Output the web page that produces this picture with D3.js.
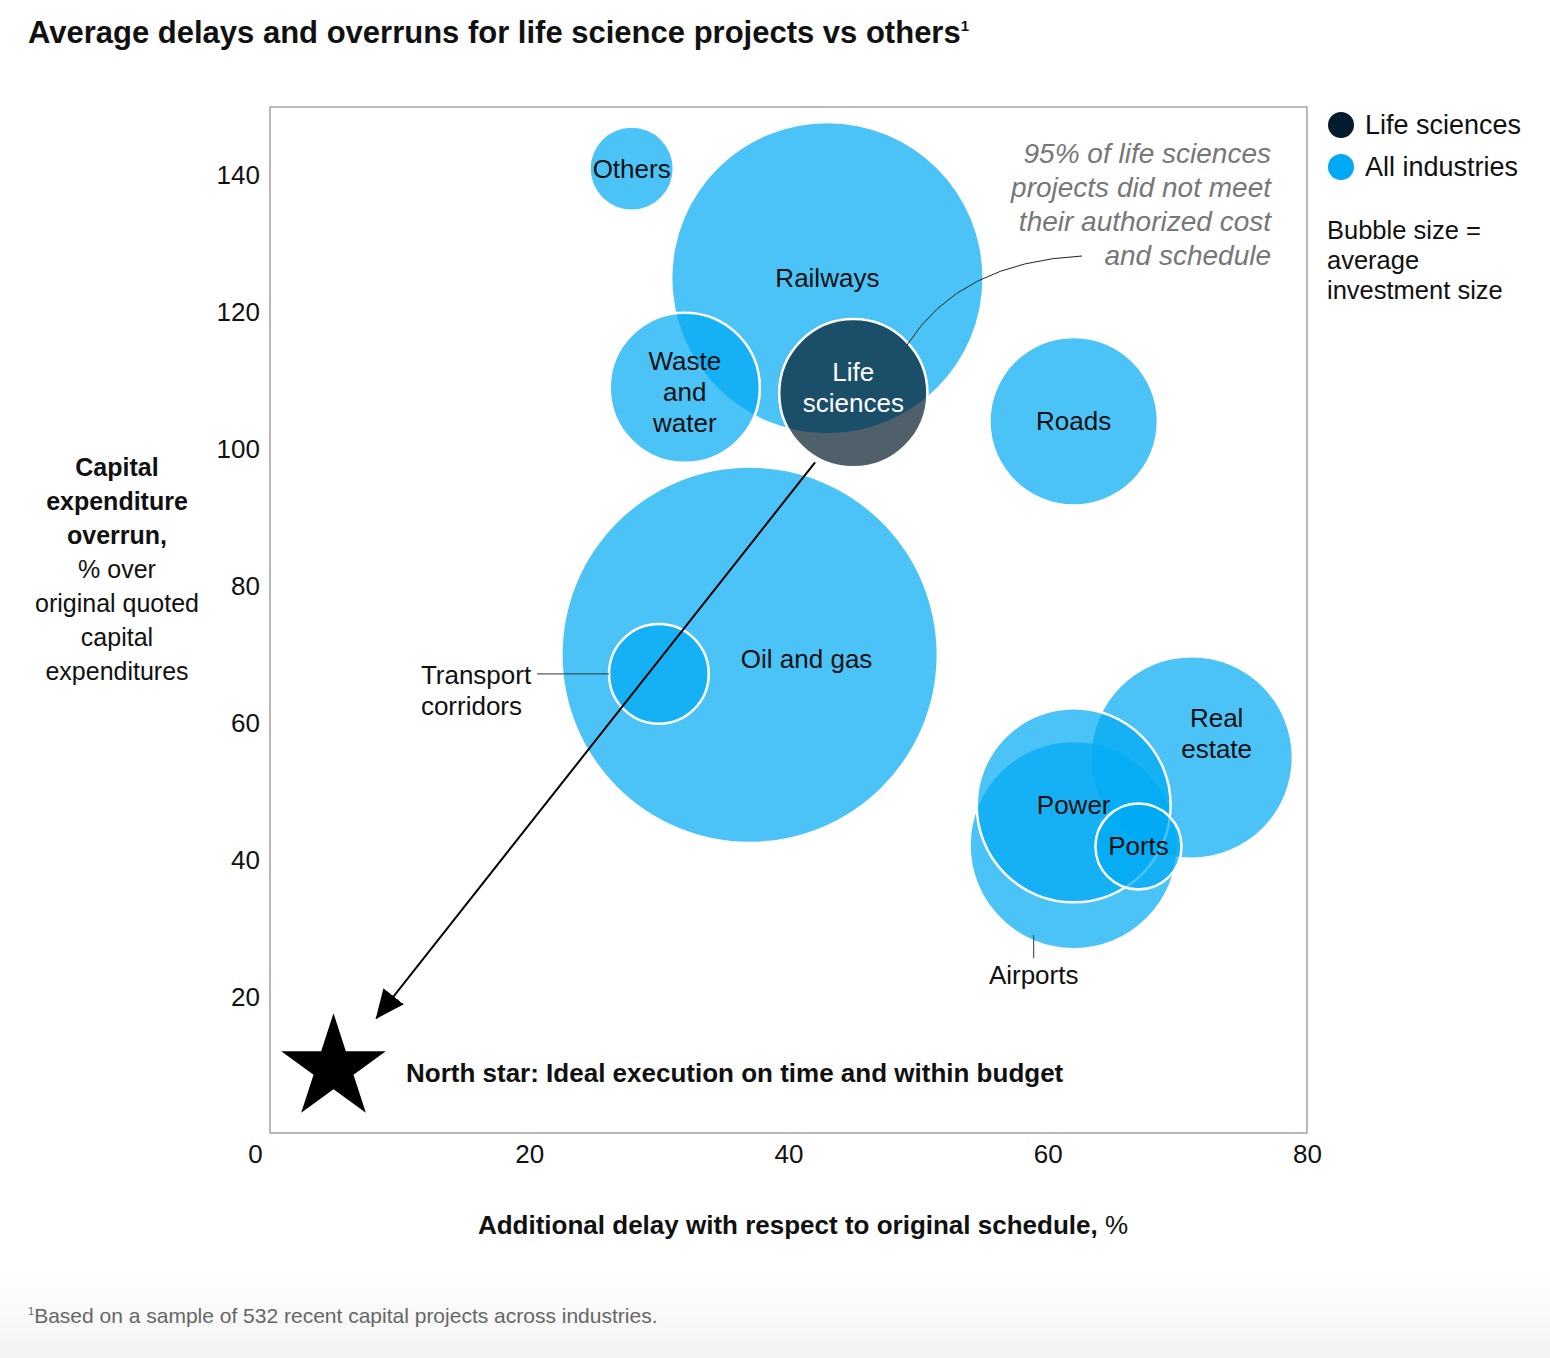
<!DOCTYPE html>
<html>
<head>
<meta charset="utf-8">
<script src="https://cdn.jsdelivr.net/npm/d3@7"></script>
<style>
  body { margin: 0; background: #fff; }
  svg { display: block; }
  text { font-family: "Liberation Sans", Arial, sans-serif; fill: #111; }
</style>
</head>
<body>
<svg id="chart" width="1550" height="1358"></svg>
<script>
// values
var categories = ["Others", "Railways", "Waste and water", "Roads", "Oil and gas", "Transport corridors",
                  "Airports", "Real estate", "Power", "Ports", "Life sciences"];
var labels = ["Others", "Railways", "Waste\nand\nwater", "Roads", "Oil and gas", "Transport\ncorridors",
              "Airports", "Real\nestate", "Power", "Ports", "Life\nsciences"];
var delay = [27.9, 43.0, 32.0, 62.0, 37.0, 30.0, 62.0, 71.1, 62.0, 67.0, 45.0];      // x, %
var overrun = [141, 125, 109, 104.1, 70, 67.2, 42.2, 55, 48, 42, 108.2];            // y, %
var investment = [4.8, 68.7, 16.1, 19.7, 100, 7.1, 30.3, 28.6, 26.9, 5.3, 15.7];     // bubble size
var groups = ["All industries", "Life sciences"];
var xTicks = [0, 20, 40, 60, 80];
var yTicks = [20, 40, 60, 80, 100, 120, 140];
var northStar = [4.9, 9.6];
var arrowFrom = [42.05, 98.1], arrowTo = [8.2, 16.9];

var data = categories.map(function(c, i) {
    return {name: c, label: labels[i], x: delay[i], y: overrun[i], size: investment[i],
            group: c == "Life sciences" ? "Life sciences" : "All industries"};
});

var svg = d3.select("#chart");
var pLeft = 270, pRight = 1307, pTop = 107, pBottom = 1134;

var x = d3.scaleLinear().domain([0, 80]).range([pLeft, pRight]);
var y = d3.scaleLinear().domain([0, 150]).range([pBottom, pTop]);
var r = d3.scaleSqrt().domain([0, 100]).range([0, 187]);
var color = d3.scaleOrdinal().domain(groups).range(["#00a9f4", "#051c2c"]);

// light gradient at page bottom
var defs = svg.append("defs");
var grad = defs.append("linearGradient").attr("id", "fade").attr("x1", 0).attr("y1", 0).attr("x2", 0).attr("y2", 1);
grad.append("stop").attr("offset", 0).attr("stop-color", "#fff");
grad.append("stop").attr("offset", 1).attr("stop-color", "#f3f3f3");
svg.append("rect").attr("x", 0).attr("y", 1270).attr("width", 1550).attr("height", 88).attr("fill", "url(#fade)");

defs.append("marker")
    .attr("id", "head")
    .attr("markerUnits", "userSpaceOnUse")
    .attr("viewBox", "0 -14 30 28")
    .attr("refX", 28).attr("refY", 0)
    .attr("markerWidth", 30).attr("markerHeight", 28)
    .attr("orient", "auto")
  .append("path")
    .attr("d", "M0,-13L29,0L0,13Z")
    .attr("fill", "#000");

// title
var title = svg.append("text").attr("x", 28).attr("y", 43)
    .style("font-size", "31px").style("font-weight", "bold");
title.append("tspan").text("Average delays and overruns for life science projects vs others");
title.append("tspan").attr("dy", -12).style("font-size", "15px").text("1");

// plot frame
svg.append("rect")
    .attr("x", pLeft).attr("y", pTop)
    .attr("width", pRight - pLeft).attr("height", pBottom - 1 - pTop)
    .attr("fill", "none").attr("stroke", "#8a8a8a").attr("stroke-width", 1.2);

// axes
var xAxis = svg.append("g")
    .attr("transform", "translate(0," + (pBottom + 11) + ")")
    .call(d3.axisBottom(x).tickValues(xTicks).tickSize(0).tickPadding(0));
xAxis.select(".domain").remove();
xAxis.selectAll("text")
    .style("font-size", "26px").style("font-family", "Liberation Sans, Arial, sans-serif")
    .attr("fill", "#111")
    .attr("dx", function(d) { return d == 0 ? -15 : 0; });

var yAxis = svg.append("g")
    .attr("transform", "translate(" + (pLeft - 10) + ",0)")
    .call(d3.axisLeft(y).tickValues(yTicks).tickSize(0).tickPadding(0));
yAxis.select(".domain").remove();
yAxis.selectAll("text")
    .style("font-size", "26px").style("font-family", "Liberation Sans, Arial, sans-serif")
    .attr("fill", "#111");

// axis titles
svg.append("text").attr("x", 803).attr("y", 1234).attr("text-anchor", "middle")
    .style("font-size", "26px")
  .call(function(t) {
      t.append("tspan").style("font-weight", "bold").text("Additional delay with respect to original schedule,");
      t.append("tspan").text(" %");
  });

var yTitle = [["Capital", true], ["expenditure", true], ["overrun,", true], ["% over", false],
              ["original quoted", false], ["capital", false], ["expenditures", false]];
svg.append("text").attr("text-anchor", "middle").style("font-size", "25px")
  .selectAll("tspan").data(yTitle).enter().append("tspan")
    .attr("x", 117).attr("y", function(d, i) { return 476 + i * 34; })
    .style("font-weight", function(d) { return d[1] ? "bold" : "normal"; })
    .text(function(d) { return d[0]; });

// bubbles
var outlined = ["Waste and water", "Transport corridors", "Power", "Ports", "Life sciences"];
svg.append("g").selectAll("circle")
    .data(data)
  .enter().append("circle")
    .attr("cx", function(d) { return x(d.x); })
    .attr("cy", function(d) { return y(d.y); })
    .attr("r", function(d) { return r(d.size); })
    .attr("fill", function(d) { return color(d.group); })
    .attr("fill-opacity", 0.7)
    .attr("stroke", function(d) { return outlined.indexOf(d.name) >= 0 ? "#fff" : "none"; })
    .attr("stroke-width", 2.5);

// arrow to the north star
svg.append("line")
    .attr("x1", x(arrowFrom[0])).attr("y1", y(arrowFrom[1]))
    .attr("x2", x(arrowTo[0])).attr("y2", y(arrowTo[1]))
    .attr("stroke", "#000").attr("stroke-width", 2)
    .attr("marker-end", "url(#head)");

// bubble labels
var offsets = {
    "Waste and water": [0, 4], "Life sciences": [0, -6], "Oil and gas": [57, 4],
    "Real estate": [25, -24], "Transport corridors": [-238, 17], "Airports": [-40, 130]
};
var lineH = 31;
var lbl = svg.append("g").selectAll("text")
    .data(data)
  .enter().append("text")
    .attr("text-anchor", function(d) { return d.name == "Transport corridors" ? "start" : "middle"; })
    .style("font-size", "26px")
    .style("fill", function(d) { return d.group == "Life sciences" ? "#fff" : "#111"; });
lbl.each(function(d) {
    var lines = d.label.split("\n"),
        o = offsets[d.name] || [0, 0],
        cx = x(d.x) + o[0],
        cy = y(d.y) + o[1] - (lines.length - 1) * lineH / 2;
    d3.select(this).selectAll("tspan").data(lines).enter().append("tspan")
        .attr("x", cx)
        .attr("y", function(l, i) { return cy + i * lineH + 9; })
        .text(function(l) { return l; });
});

// leader lines
var tc = data.find(function(d) { return d.name == "Transport corridors"; });
svg.append("line")
    .attr("x1", 537).attr("x2", x(tc.x) - r(tc.size))
    .attr("y1", y(tc.y)).attr("y2", y(tc.y))
    .attr("stroke", "#333").attr("stroke-width", 1);
var ap = data.find(function(d) { return d.name == "Airports"; });
svg.append("line")
    .attr("x1", x(ap.x) - 40).attr("x2", x(ap.x) - 40)
    .attr("y1", y(ap.y) + 90).attr("y2", y(ap.y) + 113)
    .attr("stroke", "#333").attr("stroke-width", 1);

// life sciences callout
svg.append("path")
    .attr("d", "M907,345Q960,262 1082,256")
    .attr("fill", "none").attr("stroke", "#222").attr("stroke-width", 1);
var note = ["95% of life sciences", "projects did not meet", "their authorized cost", "and schedule"];
svg.append("text").attr("text-anchor", "end")
    .style("font-size", "28px").style("font-style", "italic").style("fill", "#777")
  .selectAll("tspan").data(note).enter().append("tspan")
    .attr("x", 1271).attr("y", function(d, i) { return 163 + i * 34; })
    .text(function(d) { return d; });

// north star
svg.append("path")
    .attr("d", d3.symbol().type(d3.symbolStar).size(55 * 55 / 0.8908130915292852)())
    .attr("transform", "translate(" + x(northStar[0]) + "," + y(northStar[1]) + ")")
    .attr("fill", "#000");
svg.append("text").attr("x", 406).attr("y", 1082)
    .style("font-size", "26px").style("font-weight", "bold")
    .text("North star: Ideal execution on time and within budget");

// legend
var leg = svg.append("g").selectAll("g")
    .data(["Life sciences", "All industries"])
  .enter().append("g")
    .attr("transform", function(d, i) { return "translate(1341," + (125 + i * 42) + ")"; });
leg.append("circle").attr("r", 13).attr("fill", function(d) { return color(d); });
leg.append("text").attr("x", 24).attr("y", 9).style("font-size", "27px").text(function(d) { return d; });

svg.append("text").style("font-size", "25.5px")
  .selectAll("tspan").data(["Bubble size =", "average", "investment size"]).enter().append("tspan")
    .attr("x", 1327).attr("y", function(d, i) { return 239 + i * 30; })
    .text(function(d) { return d; });

// footnote
var foot = svg.append("text").attr("x", 28).attr("y", 1323).style("font-size", "21px").style("fill", "#666");
foot.append("tspan").attr("dy", -8).style("font-size", "11px").text("1");
foot.append("tspan").attr("dy", 8).text("Based on a sample of 532 recent capital projects across industries.");
</script>
</body>
</html>
